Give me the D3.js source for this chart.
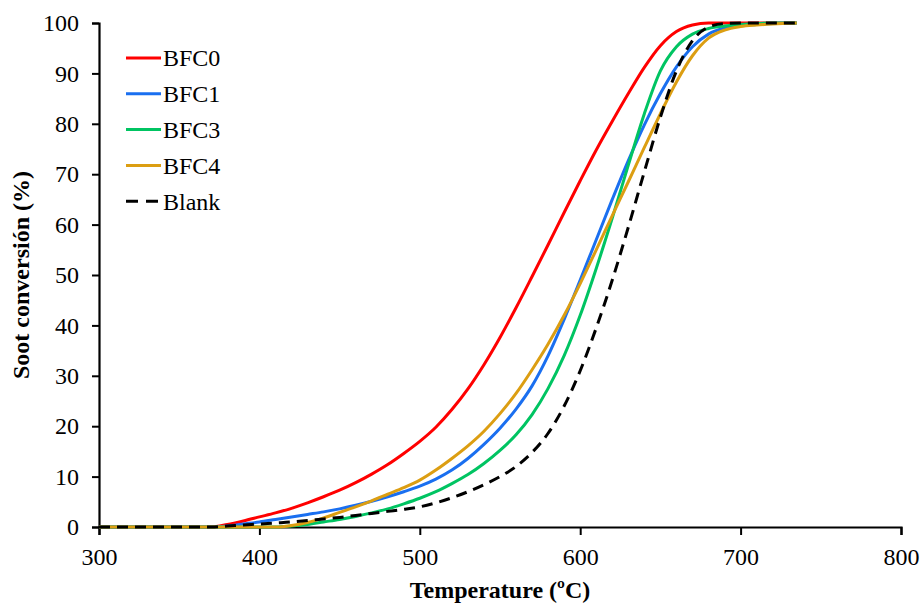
<!DOCTYPE html>
<html>
<head>
<meta charset="utf-8">
<script src="https://cdn.jsdelivr.net/npm/d3@7"></script>
<style>
  body { margin: 0; background: #fff; }
  text { font-family: "Liberation Serif", "Times New Roman", serif; fill: #000; }
</style>
</head>
<body>
<div id="chart"></div>
<script>
// temperature grid (ºC)
var temps = [300, 350, 370, 380, 390, 400, 410, 420, 430, 440, 450, 460, 470, 480, 490, 500,
             510, 520, 530, 540, 550, 560, 570, 580, 590, 600, 610, 620, 630, 640, 650,
             660, 670, 680, 690, 700, 710, 720, 735];

// soot conversion (%) for each sample
var bfc0 = [0, 0, 0, 0.5, 1.2, 2.0, 2.8, 3.7, 4.8, 6.0, 7.3, 8.8, 10.5, 12.4, 14.6, 17.0,
            19.8, 23.3, 27.4, 32.2, 37.6, 43.5, 49.7, 56, 62.4, 68.7, 74.8, 80.5, 86, 91.2, 95.5,
            98.3, 99.6, 100, 100, 100, 100, 100, 100];
var bfc1 = [0, 0, 0, 0.2, 0.6, 1.0, 1.5, 2.0, 2.5, 3.0, 3.6, 4.3, 5.1, 6.0, 7.0, 8.1,
            9.5, 11.3, 13.6, 16.4, 19.6, 23.4, 28, 34, 41.2, 49, 57, 65, 72.7, 79.8, 86,
            91.3, 95.3, 97.8, 99.0, 99.5, 99.7, 99.9, 100];
var bfc3 = [0, 0, 0, 0, 0, 0, 0, 0.2, 0.5, 1.0, 1.5, 2.1, 2.8, 3.6, 4.6, 5.7,
            7.0, 8.6, 10.4, 12.6, 15.2, 18.3, 22.3, 27.5, 34, 42, 51.3, 61.3, 71.8, 82, 90.5,
            95.3, 97.8, 98.9, 99.4, 99.7, 99.9, 100, 100];
var bfc4 = [0, 0, 0, 0, 0, 0, 0, 0.3, 0.9, 1.8, 2.9, 4.0, 5.2, 6.5, 7.8, 9.3,
            11.3, 13.6, 16.1, 19.0, 22.5, 26.5, 31.2, 36.3, 42, 48.3, 55, 61.8, 68.5, 75.3, 82,
            88.3, 93.5, 97, 98.6, 99.3, 99.6, 99.8, 100];
var blank = [0, 0, 0, 0.2, 0.4, 0.6, 0.8, 1.0, 1.3, 1.6, 1.9, 2.3, 2.7, 3.1, 3.5, 4.0,
             4.8, 5.8, 7.0, 8.4, 10.0, 12.0, 14.8, 18.6, 24, 31, 39.5, 49, 59.5, 70.5, 81.3,
             90.5, 96.5, 99.2, 99.9, 100, 100, 100, 100];

var seriesNames = ["BFC0", "BFC1", "BFC3", "BFC4", "Blank"];
var seriesValues = [bfc0, bfc1, bfc3, bfc4, blank];
var seriesColors = ["#ff0000", "#1a6ff0", "#00c462", "#dc9e12", "#000000"];

var xTicks = [300, 400, 500, 600, 700, 800];
var yTicks = [0, 10, 20, 30, 40, 50, 60, 70, 80, 90, 100];

// set the dimensions and margins of the graph
var W = 922, H = 603;
var margin = {top: 23, right: 21, bottom: 76, left: 99},
    width = W - margin.left - margin.right,
    height = H - margin.top - margin.bottom;

var x = d3.scaleLinear().domain([300, 800]).range([0, width]);
var y = d3.scaleLinear().domain([0, 100]).range([height, 0]);

var svg = d3.select("#chart").append("svg")
    .attr("width", W)
    .attr("height", H)
  .append("g")
    .attr("transform", "translate(" + margin.left + "," + margin.top + ")");

// x axis
var gx = svg.append("g")
    .attr("transform", "translate(0," + height + ")")
    .call(d3.axisBottom(x).tickValues(xTicks).tickSize(8).tickPadding(12).tickFormat(d3.format("d")));
// y axis
var gy = svg.append("g")
    .call(d3.axisLeft(y).tickValues(yTicks).tickSize(7).tickPadding(13).tickFormat(d3.format("d")));

[gx, gy].forEach(function(g) {
  g.select(".domain").attr("stroke", "#000").attr("stroke-width", 2.2);
  g.selectAll(".tick line").attr("stroke", "#000").attr("stroke-width", 2);
  g.selectAll(".tick text").style("font-size", "24px").attr("fill", "#000");
});
gx.selectAll(".tick text").attr("dy", "0.75em");

// lines
var line = d3.line()
    .x(function(d, i) { return x(temps[i]); })
    .y(function(d) { return y(d); })
    .curve(d3.curveMonotoneX);

seriesValues.forEach(function(vals, k) {
  svg.append("path")
      .datum(vals)
      .attr("fill", "none")
      .attr("stroke", seriesColors[k])
      .attr("stroke-width", 3)
      .attr("stroke-dasharray", seriesNames[k] == "Blank" ? "11,7" : null)
      .attr("d", line);
});

// axis titles
svg.append("text")
    .attr("x", width / 2)
    .attr("y", height + 71)
    .attr("text-anchor", "middle")
    .style("font-size", "24px")
    .style("font-weight", "bold")
    .text("Temperature (ºC)");

svg.append("text")
    .attr("transform", "translate(" + (-margin.left + 29) + "," + (height / 2) + ") rotate(-90)")
    .attr("text-anchor", "middle")
    .style("font-size", "24px")
    .style("font-weight", "bold")
    .text("Soot conversión (%)");

// legend
var legend = svg.append("g").attr("transform", "translate(27,35)");
seriesNames.forEach(function(name, k) {
  var row = legend.append("g").attr("transform", "translate(0," + (k * 35.8) + ")");
  row.append("line")
      .attr("x1", 0).attr("x2", 35)
      .attr("y1", 0).attr("y2", 0)
      .attr("stroke", seriesColors[k])
      .attr("stroke-width", 3)
      .attr("stroke-dasharray", name == "Blank" ? "12,8" : null);
  row.append("text")
      .attr("x", 37)
      .attr("y", 0)
      .attr("dy", "0.35em")
      .style("font-size", "24px")
      .text(name);
});
</script>
</body>
</html>
